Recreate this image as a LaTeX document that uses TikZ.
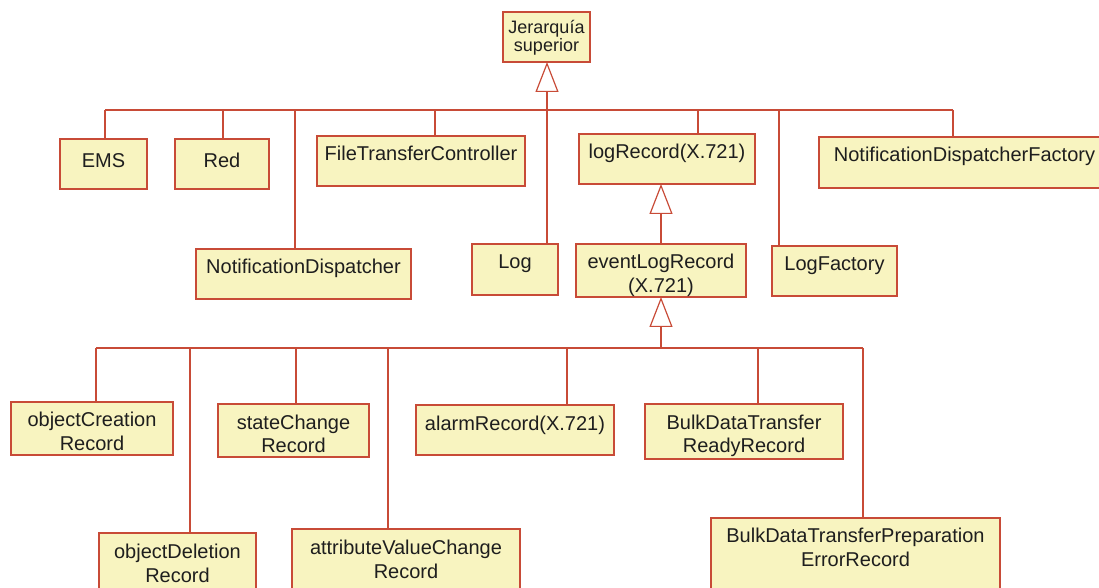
\documentclass[tikz,border=0pt]{standalone}
\usepackage{fontspec}
\setmainfont{Liberation Sans}
\usepackage{tikz}
\usetikzlibrary{arrows.meta}
\definecolor{borde}{RGB}{200,75,55}
\definecolor{fondo}{RGB}{248,244,192}
\definecolor{letra}{RGB}{30,30,30}
\tikzset{linea/.style={draw=borde, line width=0.6pt}}
\tikzset{hereda/.style={linea, -{Triangle[open, width=11.5pt, length=15pt]}}}
\tikzset{clase/.style={draw=borde, fill=fondo, line width=0.6pt, text=letra, anchor=north, align=center, inner xsep=0pt, inner ysep=0pt, outer sep=0pt, text height=12.5pt, text depth=#1, font=\fontsize{10}{12}\selectfont}}
\tikzset{clase/.default=12.5pt}
\tikzset{dos/.style={text height=24.5pt}}
\begin{document}
\begin{tikzpicture}[x=0.5pt, y=-0.5pt]
            \useasboundingbox (0, 0) rectangle (1099, 588);
            \clip (0, 0) rectangle (1099, 588);
            \node[clase=5pt, text height=20pt, font=\fontsize{9}{9}\selectfont, minimum width=43.5pt] (jer) at (546.5, 12) {Jerarqu\'ia\\superior};
            \node[clase=10.5pt, text height=14.5pt, minimum width=43.5pt] (ems) at (103.5, 139) {EMS};
            \node[clase=10.5pt, text height=14.5pt, minimum width=47pt] (red) at (222, 139) {Red};
            \node[clase, minimum width=107.5pt] (nd) at (303.5, 249) {NotificationDispatcher};
            \node[clase, minimum width=104pt] (ftc) at (421, 136) {FileTransferController};
            \node[clase, minimum width=88pt] (lr) at (667, 134) {logRecord(X.721)};
            \node[clase=13pt, minimum width=43pt] (log) at (515, 244) {Log};
            \node[clase=2pt, dos, minimum width=85pt] (evt) at (661, 244) {eventLogRecord\\(X.721)};
            \node[clase, minimum width=62.5pt] (lf) at (834.5, 246) {LogFactory};
            \node[clase=13pt, minimum width=145.5pt] (ndf) at (964.5, 137) {NotificationDispatcherFactory};
            \node[clase=2pt, dos, minimum width=81pt] (oc) at (92, 402) {objectCreation\\Record};
            \node[clase=5pt, dos, minimum width=78.5pt] (od) at (177.5, 533) {objectDeletion\\Record};
            \node[clase=2pt, dos, minimum width=75.5pt] (sc) at (293.5, 404) {stateChange\\Record};
            \node[clase=7pt, dos, minimum width=114pt] (avc) at (406, 529) {attributeValueChange\\Record};
            \node[clase, minimum width=99pt] (ar) at (515, 405) {alarmRecord(X.721)};
            \node[clase=3pt, dos, minimum width=99pt] (bdr) at (744, 404) {BulkDataTransfer\\ReadyRecord};
            \node[clase=12.5pt, dos, minimum width=144.5pt] (err) at (855.5, 518) {BulkDataTransferPreparation\\ErrorRecord};
            \coordinate (t-ems) at (105, 110);
            \coordinate (t-red) at (223, 110);
            \coordinate (t-nd) at (295, 110);
            \coordinate (t-ftc) at (435, 110);
            \coordinate (t-log) at (547, 110);
            \coordinate (t-lr) at (698, 110);
            \coordinate (t-lf) at (779, 110);
            \coordinate (t-ndf) at (953, 110);
            \coordinate (b-oc) at (96, 348);
            \coordinate (b-od) at (190, 348);
            \coordinate (b-sc) at (296, 348);
            \coordinate (b-avc) at (388, 348);
            \coordinate (b-evt) at (661, 348);
            \coordinate (b-ar) at (567, 348);
            \coordinate (b-bdr) at (758, 348);
            \coordinate (b-err) at (863, 348);
            \draw[linea] (t-ems) -- (t-ndf);
            \foreach \n in {ems, red, nd, ftc, log, lr, lf, ndf}
                \draw[linea] (t-\n) -- (t-\n |- \n.north);
            \draw[hereda] (t-log) -- (t-log |- jer.south);
            \draw[hereda] (evt.north) -- (evt.north |- lr.south);
            \draw[linea] (b-oc) -- (b-err);
            \foreach \n in {oc, od, sc, avc, ar, bdr, err}
                \draw[linea] (b-\n) -- (b-\n |- \n.north);
            \draw[hereda] (b-evt) -- (evt.south);
        \end{tikzpicture}
\end{document}
